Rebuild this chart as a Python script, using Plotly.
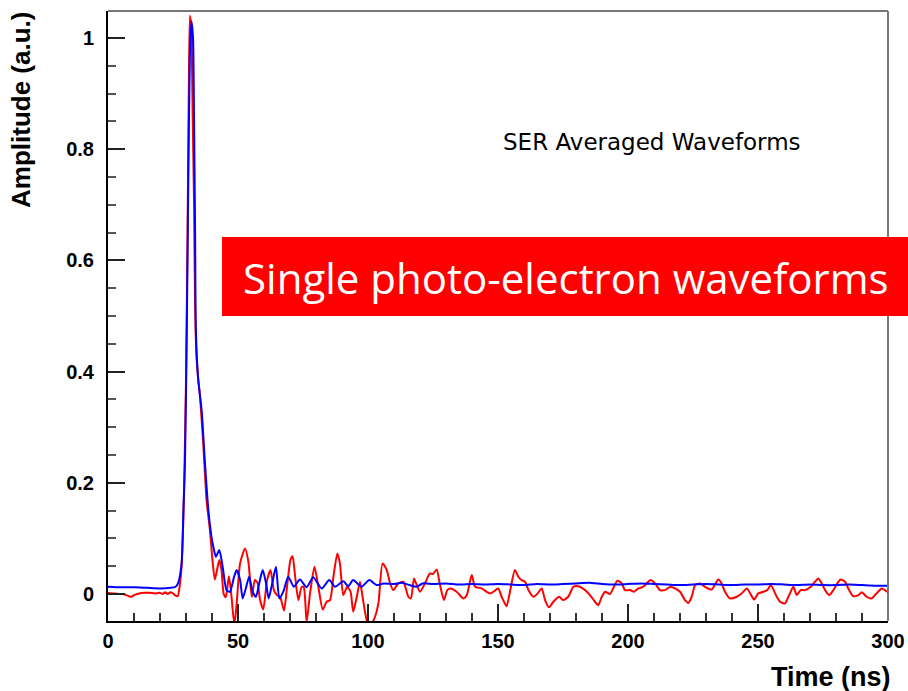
import plotly.graph_objects as go

# ---------------- data ----------------
red_t = [0, 2, 4, 6, 8, 9, 10, 12, 14, 16, 18, 20, 21, 22, 23, 24, 25, 26, 26.8,
         27.7, 28.3, 29.2, 30.0, 30.6, 31.1, 31.5, 32.0, 32.6, 33.1, 33.5, 34.0, 34.5,
         35.4, 36.7, 37.9, 39.2, 40.2, 41.1, 42.8, 43.6, 44.5, 45.3, 46.5, 47.4, 48.6,
         49.5, 50.8, 52.7, 54.0, 55.3, 56.5, 57.5, 58.5, 59.7, 61.2, 62.5, 63.8, 65.0,
         66.2, 67.7, 69.0, 70.2, 71.0, 71.9, 73.2, 74.5, 75.3, 76.4, 77.7, 79.4, 80.9,
         82.6, 84.1, 85.4, 86.7, 88.2, 89.2, 90.5, 92.0, 93.3, 94.3, 95.7, 96.9, 97.9,
         99.5, 100.8, 102.7, 104.0, 105.6, 107.2, 108.5, 109.7, 111.7, 113.6, 115.5,
         116.5, 117.7, 118.5, 120.0, 121.9, 123.8, 125.0, 126.4, 127.7, 129.2, 130.5,
         131.8, 134.1, 136.7, 138.0, 139.9, 141.2, 143.7, 145.6, 147.0, 148.2, 150.1,
         151.4, 153.3, 154.6, 156.5, 157.8, 159.1, 160.4, 161.7, 163.6, 165.1, 166.8,
         168.1, 169.6, 171.3, 173.5, 175.1, 177.0, 179.0, 180.9, 183.5, 185.4, 187.3,
         188.6, 189.9, 191.2, 193.1, 195.9, 197.6, 198.8, 200.8, 202.3, 204.0, 205.9,
         208.7, 210.4, 212.3, 214.2, 216.4, 218.1, 220.0, 221.9, 223.2, 224.5, 225.8,
         227.7, 229.6, 232.2, 234.7, 236.0, 237.3, 239.2, 241.8, 243.7, 245.7, 247.0,
         248.5, 250.1, 252.0, 253.6, 254.9, 257.2, 258.5, 260.4, 261.7, 263.6, 264.9,
         266.4, 268.1, 270.3, 271.9, 273.2, 274.5, 275.8, 277.4, 279.0, 280.5, 281.8,
         283.5, 284.7, 286.6, 288.6, 289.9, 291.8, 293.7, 295.6, 297.6, 298.8, 300.0]
red_a = [0.002, 0.001, 0.000, 0.000, -0.004, -0.005, -0.002, 0.001, 0.002, 0.002, 0.001,
         0.002, 0.000, 0.003, 0.000, 0.003, 0.001, -0.003, -0.004,
         0.019, 0.049, 0.175, 0.385, 0.65, 0.92, 1.04, 1.02, 0.85, 0.70, 0.52, 0.43, 0.397,
         0.355, 0.265, 0.169, 0.115, 0.06, 0.026, 0.061, 0.045, 0.0, -0.006, 0.032, 0.0,
         -0.055, -0.017, 0.055, 0.082, 0.058, -0.005, 0.025, 0.02, -0.011, -0.028, 0.025,
         0.043, 0.007, -0.002, -0.005, -0.03, 0.019, 0.062, 0.068, 0.035, -0.011, 0.013,
         0.012, -0.05, 0.001, 0.049, 0.013, -0.028, -0.014, -0.011, 0.031, 0.073, 0.055,
         -0.002, 0.013, 0.004, -0.032, -0.005, 0.022, -0.005, -0.047, -0.058, -0.041,
         -0.017, 0.055, 0.043, 0.019, 0.007, 0.019, 0.022, -0.005, -0.008, 0.028, 0.019,
         0.004, 0.019, 0.037, 0.036, 0.044, 0.016, -0.011, 0.007, 0.010, 0.004, -0.008,
         -0.002, 0.034, 0.013, 0.010, 0.004, 0.001, 0.004, 0.010, -0.005, -0.022, 0.004,
         0.043, 0.031, 0.025, 0.022, 0.007, -0.005, 0.000, 0.010, -0.011, -0.024, -0.014,
         -0.005, -0.011, -0.005, 0.013, 0.014, 0.007, -0.002, -0.014, -0.020, -0.005,
         0.004, 0.000, 0.024, 0.019, 0.007, 0.007, 0.004, 0.010, 0.013, 0.025, 0.019,
         0.007, 0.007, 0.013, 0.010, 0.004, -0.011, -0.016, -0.005, 0.016, 0.019, 0.013,
         0.008, 0.026, 0.019, 0.004, -0.008, -0.005, 0.001, 0.010, 0.001, -0.010, 0.001,
         0.004, 0.007, 0.016, -0.005, -0.014, -0.017, -0.005, 0.013, -0.002, 0.007, 0.007,
         0.013, 0.022, 0.028, 0.019, 0.007, -0.002, 0.007, 0.019, 0.026, 0.022, 0.010,
         -0.004, -0.002, 0.003, -0.005, -0.008, 0.001, 0.010, 0.007, 0.003]

blue_t = [0, 5, 10, 15, 20, 24, 26, 27, 28.3, 29.0, 29.6, 30.3, 30.9, 31.5, 32.1, 32.7,
          33.1, 33.5, 33.8, 34.7, 36.0, 37.3, 38.6, 39.8, 40.5, 41.5, 42.8, 44.1, 45.6,
          46.9, 48.5, 49.5, 50.8, 51.8, 53.0, 54.3, 55.6, 56.9, 58.2, 59.5, 60.8, 61.8,
          63.2, 64.6, 65.9, 67.5, 69.3, 71.5, 73.8, 76.4, 78.9, 82.2, 85.1, 87.3, 90.5,
          92.4, 94.3, 97.5, 100.5, 103.3, 106, 110, 113, 116, 118.7, 121, 125, 130, 135,
          140, 145, 150, 155, 160, 165, 170, 175, 180, 185, 190, 195, 200, 205, 210, 215,
          220, 225, 230, 235, 240, 245, 250, 255, 260, 265, 270, 275, 280, 285, 290, 295,
          300]
blue_a = [0.013, 0.012, 0.012, 0.011, 0.010, 0.011, 0.013, 0.02, 0.055, 0.15, 0.235,
          0.475, 0.75, 0.97, 1.03, 1.0, 0.85, 0.65, 0.475, 0.385, 0.331, 0.235, 0.151,
          0.103, 0.085, 0.067, 0.079, 0.049, 0.007, 0.004, 0.031, 0.043, 0.025, -0.008,
          0.01, 0.031, 0.004, -0.005, 0.02, 0.043, 0.019, -0.008, 0.02, 0.049, -0.008,
          0.005, 0.031, 0.013, 0.026, 0.012, 0.030, 0.010, 0.025, 0.013, 0.023, 0.014,
          0.025, 0.013, 0.025, 0.016, 0.019, 0.018, 0.020, 0.016, 0.013, 0.019, 0.018,
          0.019, 0.017, 0.018, 0.017, 0.018, 0.017, 0.016, 0.018, 0.017, 0.018, 0.019,
          0.020, 0.018, 0.017, 0.018, 0.019, 0.018, 0.017, 0.016, 0.017, 0.018, 0.017,
          0.016, 0.017, 0.017, 0.018, 0.017, 0.016, 0.017, 0.016, 0.016, 0.017, 0.016,
          0.015, 0.015]

x_range = [0, 300]
y_range = [-0.0486, 1.0486]
x_ticks = [0, 50, 100, 150, 200, 250, 300]
y_ticks = [0, 0.2, 0.4, 0.6, 0.8, 1.0]
y_ticktext = ["0", "0.2", "0.4", "0.6", "0.8", "1"]

FONT = "Liberation Sans, Arial, sans-serif"

fig = go.Figure()
fig.add_trace(go.Scatter(x=red_t, y=red_a, mode="lines",
                         line=dict(color="#ff0000", width=2, shape="spline", smoothing=0.6),
                         showlegend=False))
fig.add_trace(go.Scatter(x=blue_t, y=blue_a, mode="lines",
                         line=dict(color="#0000ff", width=2, shape="spline", smoothing=0.6),
                         showlegend=False))

fig.update_layout(
    width=908, height=691,
    margin=dict(l=108, r=20, t=11, b=70, autoexpand=False),
    paper_bgcolor="white", plot_bgcolor="white",
    font=dict(family=FONT, color="black"),
    xaxis=dict(range=x_range, showgrid=False, zeroline=False, automargin=False,
               showline=True, linecolor="black", linewidth=2,
               ticks="inside", ticklen=17, tickwidth=1.5, tickcolor="#222",
               tickvals=x_ticks, ticktext=[str(v) for v in x_ticks],
               tickfont=dict(family=FONT, size=20, color="black", weight="bold"),
               ticklabelstandoff=1,
               minor=dict(dtick=10, ticks="inside", ticklen=8, tickwidth=1.5, tickcolor="#333")),
    yaxis=dict(range=y_range, showgrid=False, zeroline=False, automargin=False,
               showline=True, linecolor="black", linewidth=2,
               ticks="inside", ticklen=17, tickwidth=1.5, tickcolor="#222",
               tickvals=y_ticks, ticktext=y_ticktext,
               tickfont=dict(family=FONT, size=20, color="black", weight="bold"),
               ticklabelstandoff=8,
               minor=dict(dtick=0.05, tick0=0, ticks="inside", ticklen=8, tickwidth=1.5, tickcolor="#555")),
)

# frame top / right
fig.add_shape(type="line", xref="paper", yref="paper", x0=0, x1=1, y0=1, y1=1,
              line=dict(color="#777", width=2))
fig.add_shape(type="line", xref="paper", yref="paper", x0=1, x1=1, y0=0, y1=1,
              line=dict(color="#777", width=2))

# red banner
fig.add_shape(type="rect", xref="paper", yref="paper",
              x0=(222 - 108) / 780, x1=(910 - 108) / 780,
              y0=(621 - 316) / 610, y1=(621 - 237) / 610,
              fillcolor="#ff0000", line=dict(width=0), layer="above")
fig.add_annotation(xref="paper", yref="paper", x=(241 - 108) / 780, y=(621 - 277) / 610,
                   xanchor="left", yanchor="middle", showarrow=False,
                   text="Single photo-electron waveforms",
                   font=dict(family="Open Sans, sans-serif", size=42, color="white"))

# inner title
fig.add_annotation(xref="paper", yref="paper", x=(652 - 108) / 780, y=(621 - 142) / 610,
                   xanchor="center", yanchor="middle", showarrow=False,
                   text="SER Averaged Waveforms",
                   font=dict(family="DejaVu Sans, sans-serif", size=23, color="black",
                             weight=500))

# axis titles
fig.add_annotation(xref="paper", yref="paper", x=(893 - 108) / 780, y=(621 - 677) / 610,
                   xanchor="right", yanchor="middle", showarrow=False,
                   text="Time (ns)",
                   font=dict(family=FONT, size=27, color="black", weight="bold"))
fig.add_annotation(xref="paper", yref="paper", x=(21 - 108) / 780, y=(621 - 110) / 610,
                   xanchor="center", yanchor="middle", showarrow=False, textangle=-90,
                   text="Amplitude (a.u.)",
                   font=dict(family=FONT, size=26, color="black", weight="bold"))

fig.write_html("out.html")
